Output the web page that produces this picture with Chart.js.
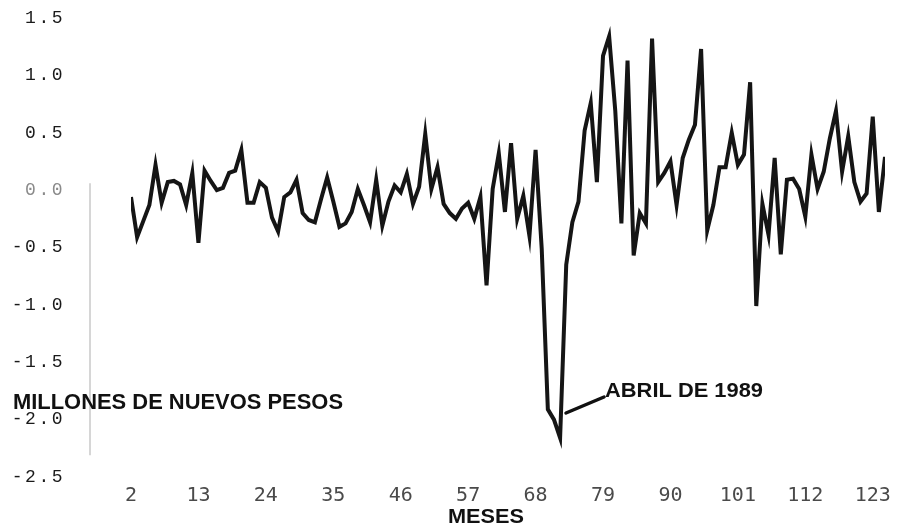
<!DOCTYPE html>
<html>
<head>
<meta charset="utf-8">
<script src="https://cdn.jsdelivr.net/npm/chart.js@4/dist/chart.umd.min.js"></script>
<style>
html,body{margin:0;padding:0;background:#fff;}
canvas{display:block;}
</style>
</head>
<body>
<canvas id="c" width="917" height="530"></canvas>
<script>
// ---- data ----
const months = [
  2,3,4,5,6,7,8,9,10,11,
  12,13,14,15,16,17,18,19,20,21,
  22,23,24,25,26,27,28,29,30,31,
  32,33,34,35,36,37,38,39,40,41,
  42,43,44,45,46,47,48,49,50,51,
  52,53,54,55,56,57,58,59,60,61,
  62,63,64,65,66,67,68,69,70,71,
  72,73,74,75,76,77,78,79,80,81,
  82,83,84,85,86,87,88,89,90,91,
  92,93,94,95,96,97,98,99,100,101,
  102,103,104,105,106,107,108,109,110,111,
  112,113,114,115,116,117,118,119,120,121,
  122,123,124,125
];
const values = [
  -0.06,-0.41,-0.27,-0.13,0.22,-0.11,0.07,0.08,0.05,-0.13,
  0.15,-0.46,0.17,0.08,0.00,0.02,0.15,0.17,0.35,-0.11,
  -0.11,0.07,0.02,-0.24,-0.36,-0.06,-0.02,0.09,-0.20,-0.26,
  -0.28,-0.08,0.11,-0.10,-0.32,-0.29,-0.19,0.01,-0.13,-0.28,
  0.09,-0.31,-0.10,0.04,-0.02,0.14,-0.12,0.03,0.49,0.01,
  0.20,-0.12,-0.20,-0.25,-0.16,-0.11,-0.25,-0.06,-0.83,0.01,
  0.32,-0.19,0.41,-0.25,-0.05,-0.40,0.35,-0.51,-1.91,-2.00,
  -2.16,-0.65,-0.28,-0.10,0.52,0.76,0.07,1.17,1.34,0.69,
  -0.29,1.13,-0.57,-0.20,-0.29,1.32,0.07,0.15,0.25,-0.13,
  0.28,0.44,0.57,1.23,-0.35,-0.13,0.20,0.20,0.50,0.22,
  0.31,0.94,-1.01,-0.12,-0.39,0.28,-0.56,0.09,0.10,0.01,
  -0.23,0.31,0.01,0.16,0.45,0.69,0.16,0.47,0.07,-0.10,
  -0.03,0.64,-0.19,0.29
];
const xTickMonths = [2,13,24,35,46,57,68,79,90,101,112,123];
const yTickValues = [1.5,1.0,0.5,0.0,-0.5,-1.0,-1.5,-2.0,-2.5];
const yAxisLabel = 'MILLONES DE NUEVOS PESOS';
const xAxisLabel = 'MESES';
const annotationText = 'ABRIL DE 1989';

// ---- helpers ----
function fitText(ctx, text, x, y, width, align) {
  const w = ctx.measureText(text).width;
  ctx.save();
  ctx.translate(x, y);
  ctx.scale(width / w, 1);
  ctx.textAlign = align;
  ctx.textBaseline = 'alphabetic';
  ctx.fillText(text, 0, 0);
  ctx.restore();
}

const decorPlugin = {
  id: 'decor',
  beforeDraw(chart) {
    const ctx = chart.ctx;
    ctx.save();
    ctx.fillStyle = '#ffffff';
    ctx.fillRect(0, 0, chart.width, chart.height);
    ctx.restore();
    const ys = chart.scales.y;
    if (!ys._spaced) {
      const orig = ys.drawLabels.bind(ys);
      ys.drawLabels = function (area) {
        const c = this.ctx;
        const prev = c.letterSpacing;
        c.letterSpacing = '2.5px';
        orig(area);
        c.letterSpacing = prev || '0px';
      };
      ys._spaced = true;
    }
    // faint scanned axis line
    ctx.save();
    ctx.strokeStyle = '#d6d6d6';
    ctx.lineWidth = 2;
    ctx.beginPath();
    ctx.moveTo(90, ys.getPixelForValue(0.06));
    ctx.lineTo(90, ys.getPixelForValue(-2.31));
    ctx.stroke();
    ctx.restore();
  },
  afterDraw(chart) {
    const ctx = chart.ctx;
    ctx.save();
    ctx.fillStyle = '#111111';
    ctx.font = 'bold 22px "Liberation Sans", Arial, sans-serif';
    fitText(ctx, yAxisLabel, 13, 409, 330, 'left');
    ctx.font = 'bold 21px "Liberation Sans", Arial, sans-serif';
    fitText(ctx, xAxisLabel, 486, 523, 76, 'center');
    fitText(ctx, annotationText, 605, 397, 158, 'left');
    ctx.strokeStyle = '#111111';
    ctx.lineWidth = 3.5;
    ctx.lineCap = 'round';
    ctx.beginPath();
    ctx.moveTo(566, 413);
    ctx.lineTo(604, 397);
    ctx.stroke();
    ctx.restore();
  }
};

const points = months.map((m, i) => ({ x: m, y: values[i] }));

new Chart(document.getElementById('c'), {
  type: 'line',
  data: {
    datasets: [{
      data: points,
      borderColor: '#151515',
      borderWidth: 4,
      borderJoinStyle: 'miter',
      pointRadius: 0,
      tension: 0,
      fill: false
    }]
  },
  options: {
    responsive: false,
    animation: false,
    devicePixelRatio: 1,
    layout: { padding: { top: 18, right: 32, left: 0, bottom: 0 } },
    plugins: { legend: { display: false }, tooltip: { enabled: false } },
    scales: {
      x: {
        type: 'linear',
        min: 2,
        max: 125,
        grid: { display: false, drawTicks: false },
        border: { display: false },
        afterBuildTicks(scale) { scale.ticks = xTickMonths.map(v => ({ value: v })); },
        afterFit(scale) {
          scale.height = 53;
          scale.paddingLeft = 0;
          scale.paddingRight = 0;
        },
        ticks: {
          autoSkip: false,
          maxRotation: 0,
          padding: 7,
          color: '#4a4a4a',
          font: { family: '"DejaVu Sans Mono", monospace', size: 20 },
          callback: v => String(v)
        }
      },
      y: {
        min: -2.5,
        max: 1.5,
        grid: { display: false, drawTicks: false },
        border: { display: false },
        afterBuildTicks(scale) { scale.ticks = yTickValues.map(v => ({ value: v })); },
        afterFit(scale) {
          scale.width = 131;
          scale.paddingTop = 0;
          scale.paddingBottom = 0;
        },
        ticks: {
          padding: 66,
          color: ctx => (ctx.tick && ctx.tick.value === 0 ? '#8a8a8a' : '#1a1a1a'),
          font: { family: '"Liberation Mono", "Courier New", monospace', size: 18 },
          callback: v => v.toFixed(1)
        }
      }
    }
  },
  plugins: [decorPlugin]
});
</script>
</body>
</html>
